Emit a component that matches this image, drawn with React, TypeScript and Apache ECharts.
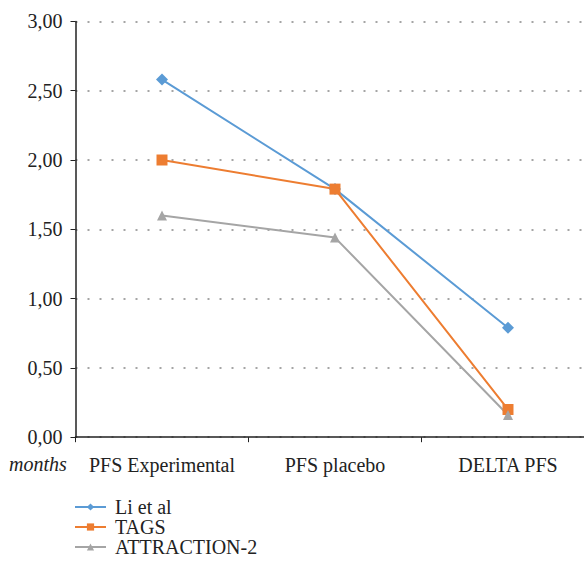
import React, { useEffect, useRef } from "react";
import * as echarts from "echarts";

const categories = ["PFS Experimental", "PFS placebo", "DELTA PFS"];
const seriesNames = ["Li et al", "TAGS", "ATTRACTION-2"];
const liValues = [2.58, 1.79, 0.79];
const tagsValues = [2.0, 1.79, 0.2];
const attractionValues = [1.6, 1.44, 0.16];
const yTicks = [0, 0.5, 1, 1.5, 2, 2.5, 3];

const FONT = "Liberation Serif";

export default function App() {
  const ref = useRef<HTMLDivElement>(null);
  useEffect(() => {
    if (!ref.current) return;
    const chart = echarts.init(ref.current, undefined, { renderer: "svg" });
    const mk = (name: string, data: number[], color: string, symbol: string, size: number) => ({
      name,
      type: "line",
      data,
      symbol,
      symbolSize: size,
      showAllSymbol: true,
      lineStyle: { color, width: 2 },
      itemStyle: { color },
      emphasis: { disabled: true },
    });
    chart.setOption({
      animation: false,
      textStyle: { fontFamily: FONT },
      grid: {
        left: 75.5,
        top: 21.4,
        width: 519,
        height: 415.8,
        containLabel: false,
        outerBoundsMode: "none",
      },
      xAxis: {
        type: "category",
        data: categories,
        boundaryGap: true,
        axisLine: { lineStyle: { color: "#222", width: 1.5 } },
        axisTick: { show: true, length: 5, lineStyle: { color: "#222" } },
        axisLabel: { fontFamily: FONT, fontSize: 20, color: "#222", margin: 18, interval: 0, hideOverlap: false },
        splitLine: { show: false },
      },
      yAxis: {
        type: "value",
        min: yTicks[0],
        max: yTicks[yTicks.length - 1],
        interval: 0.5,
        axisLine: { show: true, lineStyle: { color: "#222", width: 1.5 } },
        axisTick: { show: true, length: 5, lineStyle: { color: "#222" } },
        axisLabel: {
          fontFamily: FONT,
          fontSize: 20,
          color: "#222",
          margin: 13,
          formatter: (v: number) => v.toFixed(2).replace(".", ","),
        },
        splitLine: { show: true, lineStyle: { color: "#888", type: [2, 10], width: 1.5 } },
      },
      legend: {
        orient: "vertical",
        left: 74,
        top: 497,
        height: 66,
        padding: 0,
        itemWidth: 31,
        itemHeight: 9,
        itemGap: 0,
        data: seriesNames,
        textStyle: { fontFamily: FONT, fontSize: 20, color: "#222", padding: [0, 0, 0, 4] },
      },
      graphic: [
        {
          type: "text",
          left: 9,
          top: 454,
          style: { text: "months", fontFamily: FONT, fontStyle: "italic", fontSize: 20, fill: "#222" },
        },
      ],
      series: [
        mk(seriesNames[0], liValues, "#5B9BD5", "diamond", 12),
        mk(seriesNames[1], tagsValues, "#ED7D31", "rect", 11),
        mk(seriesNames[2], attractionValues, "#A5A5A5", "triangle", 10),
      ],
    });
    return () => chart.dispose();
  }, []);
  return (
    <div
      ref={ref}
      style={{ position: "fixed", left: 0, top: 0, width: 584, height: 563, background: "#fff" }}
    />
  );
}
